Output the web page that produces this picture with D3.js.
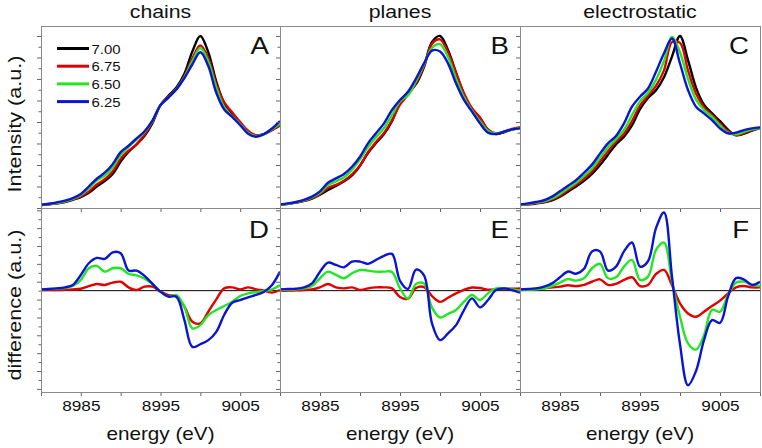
<!DOCTYPE html>
<html>
<head>
<meta charset="utf-8">
<script src="https://cdn.jsdelivr.net/npm/d3@7"></script>
<style>
  body { margin: 0; background: #fff; }
  text { font-family: "Liberation Sans", Arial, Helvetica, sans-serif; fill: #111; }
</style>
</head>
<body>
<script>
(function() {

    var width = 762,
        height = 448;

    // energy grid, eV
    var energies = [8980, 8981, 8982, 8983, 8984, 8985, 8986, 8987, 8988, 8989, 8990,
                    8991, 8992, 8993, 8994, 8995, 8996, 8997, 8998, 8999, 9000,
                    9001, 9002, 9003, 9004, 9005, 9006, 9007, 9008, 9009, 9010];

    var xTicks = [8980, 8985, 8990, 8995, 9000, 9005, 9010];
    var xLabels = [8985, 8995, 9005];
    var phLabels = ["7.00", "6.75", "6.50", "6.25"];
    var colors = ["#000000", "#e00000", "#22e622", "#0a14d2"];
    var titles = ["chains", "planes", "electrostatic"];
    var topLetters = ["A", "B", "C"];
    var bottomLetters = ["D", "E", "F"];

    // intensity (a.u.), top row
    var chainsBlack = [0.017,0.021,0.027,0.035,0.048,0.063,0.088,0.125,0.157,0.198,0.270,0.327,0.370,0.420,0.495,0.598,0.652,0.700,0.780,0.910,1.000,0.905,0.735,0.610,0.550,0.497,0.443,0.420,0.430,0.455,0.480];
    var chainsRed   = [0.017,0.022,0.028,0.036,0.050,0.067,0.095,0.137,0.167,0.212,0.286,0.333,0.370,0.427,0.502,0.598,0.645,0.690,0.765,0.870,0.945,0.870,0.720,0.614,0.556,0.499,0.449,0.422,0.430,0.452,0.481];
    var chainsGreen = [0.018,0.023,0.030,0.039,0.053,0.075,0.115,0.160,0.188,0.236,0.308,0.355,0.398,0.442,0.507,0.598,0.642,0.692,0.760,0.855,0.930,0.850,0.700,0.585,0.533,0.487,0.438,0.418,0.430,0.458,0.490];
    var chainsBlue  = [0.019,0.025,0.033,0.043,0.058,0.082,0.125,0.170,0.205,0.255,0.325,0.362,0.405,0.446,0.510,0.598,0.642,0.690,0.755,0.835,0.905,0.825,0.670,0.573,0.530,0.482,0.432,0.414,0.430,0.462,0.505];

    var planesBlack = [0.019,0.024,0.031,0.041,0.055,0.077,0.105,0.128,0.155,0.190,0.246,0.320,0.378,0.430,0.505,0.612,0.672,0.720,0.820,0.965,1.000,0.918,0.787,0.663,0.574,0.522,0.455,0.430,0.440,0.456,0.466];
    var planesRed   = [0.019,0.024,0.031,0.041,0.057,0.082,0.117,0.134,0.159,0.196,0.247,0.324,0.384,0.436,0.509,0.601,0.658,0.726,0.825,0.954,0.980,0.905,0.785,0.665,0.580,0.526,0.456,0.433,0.444,0.460,0.470];
    var planesGreen = [0.020,0.025,0.033,0.044,0.062,0.088,0.133,0.155,0.178,0.222,0.283,0.355,0.412,0.465,0.540,0.620,0.656,0.738,0.835,0.930,0.953,0.878,0.752,0.643,0.566,0.505,0.448,0.434,0.444,0.456,0.466];
    var planesBlue  = [0.021,0.027,0.035,0.047,0.066,0.097,0.147,0.172,0.198,0.240,0.298,0.376,0.434,0.492,0.570,0.628,0.676,0.753,0.841,0.915,0.910,0.841,0.725,0.628,0.560,0.492,0.438,0.430,0.444,0.457,0.463];

    var electroBlack = [0.017,0.021,0.026,0.033,0.045,0.066,0.095,0.125,0.158,0.198,0.250,0.310,0.370,0.415,0.480,0.575,0.640,0.685,0.760,0.880,1.000,0.860,0.700,0.600,0.550,0.505,0.455,0.423,0.432,0.450,0.465];
    var electroRed   = [0.018,0.022,0.028,0.035,0.050,0.072,0.104,0.135,0.170,0.213,0.270,0.330,0.385,0.432,0.505,0.595,0.652,0.710,0.800,0.965,0.960,0.800,0.665,0.585,0.540,0.492,0.446,0.424,0.436,0.453,0.466];
    var electroGreen = [0.019,0.024,0.031,0.039,0.056,0.082,0.115,0.146,0.186,0.230,0.292,0.352,0.400,0.455,0.540,0.620,0.670,0.745,0.855,0.995,0.905,0.750,0.630,0.570,0.530,0.480,0.438,0.428,0.442,0.457,0.467];
    var electroBlue  = [0.021,0.027,0.035,0.045,0.066,0.097,0.130,0.161,0.205,0.252,0.316,0.376,0.419,0.492,0.589,0.647,0.695,0.792,0.900,0.985,0.840,0.686,0.589,0.550,0.511,0.463,0.434,0.438,0.453,0.463,0.469];

    // difference (a.u.), bottom row, relative to pH 7.00
    var chainsRedD   = [0.007,0.007,0.007,0.010,0.015,0.022,0.050,0.075,0.064,0.090,0.100,0.037,0.007,0.045,0.045,-0.011,-0.049,-0.067,-0.180,-0.348,-0.367,-0.236,-0.097,0.026,0.037,0.015,0.037,0.015,0.000,-0.022,0.007];
    var chainsGreenD = [0.015,0.019,0.022,0.030,0.052,0.120,0.251,0.277,0.213,0.251,0.251,0.187,0.172,0.135,0.075,-0.011,-0.067,-0.049,-0.180,-0.423,-0.386,-0.273,-0.217,-0.172,-0.124,-0.060,-0.030,-0.015,-0.004,0.015,0.064];
    var chainsBlueD  = [0.015,0.019,0.026,0.037,0.064,0.176,0.307,0.367,0.356,0.430,0.420,0.225,0.225,0.165,0.075,-0.011,-0.067,-0.067,-0.330,-0.630,-0.600,-0.554,-0.461,-0.270,-0.135,-0.105,-0.075,-0.048,-0.011,0.064,0.213];

    var planesRedD   = [0.000,0.000,0.004,0.007,0.015,0.037,0.075,0.037,0.026,0.037,0.007,0.026,0.037,0.037,0.026,-0.070,-0.090,0.030,0.040,-0.060,-0.125,-0.080,-0.030,0.010,0.035,0.030,0.010,0.015,0.022,0.022,0.026];
    var planesGreenD = [0.007,0.011,0.015,0.026,0.052,0.139,0.213,0.176,0.139,0.195,0.232,0.225,0.213,0.213,0.210,0.026,-0.090,0.075,0.080,-0.190,-0.300,-0.260,-0.217,-0.124,-0.049,-0.105,-0.030,0.026,0.026,0.015,0.000];
    var planesBlueD  = [0.015,0.019,0.022,0.037,0.082,0.213,0.315,0.288,0.262,0.326,0.326,0.300,0.345,0.390,0.412,0.110,0.020,0.235,0.170,-0.367,-0.554,-0.479,-0.386,-0.217,-0.086,-0.187,-0.105,0.007,0.026,0.007,-0.022];

    var electroRedD   = [0.015,0.015,0.020,0.026,0.037,0.045,0.060,0.050,0.064,0.100,0.127,0.064,0.075,0.120,0.150,0.052,0.064,0.187,0.232,0.060,-0.142,-0.255,-0.292,-0.236,-0.172,-0.112,-0.030,0.037,0.052,0.037,0.037];
    var electroGreenD = [0.007,0.011,0.015,0.026,0.052,0.090,0.131,0.112,0.139,0.251,0.300,0.139,0.150,0.270,0.345,0.120,0.157,0.457,0.539,0.100,-0.290,-0.590,-0.660,-0.500,-0.215,-0.236,-0.049,0.090,0.101,0.064,0.052];
    var electroBlueD  = [0.015,0.019,0.026,0.045,0.082,0.150,0.215,0.190,0.245,0.440,0.440,0.225,0.270,0.440,0.540,0.270,0.330,0.700,0.875,0.157,-0.600,-1.060,-0.900,-0.555,-0.330,-0.360,-0.067,0.140,0.125,0.065,0.100];

    var columns = [
        { top: [chainsBlack, chainsRed, chainsGreen, chainsBlue], bottom: [chainsRedD, chainsGreenD, chainsBlueD] },
        { top: [planesBlack, planesRed, planesGreen, planesBlue], bottom: [planesRedD, planesGreenD, planesBlueD] },
        { top: [electroBlack, electroRed, electroGreen, electroBlue], bottom: [electroRedD, electroGreenD, electroBlueD] }
    ];

    // layout
    var colX = [[41, 280], [280, 520], [520, 760]];
    var topRange = [208, 26],
        botRange = [392, 208];
    var stretch = 1.15;  // the original font is wider than Arial

    var svg = d3.select("body")
        .append("svg")
        .attr("width", width)
        .attr("height", height);

    var defs = svg.append("defs");

    var yInt = d3.scaleLinear().domain([0, 1.058]).range(topRange);
    var yDiff = d3.scaleLinear().domain([-1.135, 0.926]).range(botRange);

    var intTicks = d3.range(0, 17).map(function(d) { return d * 0.0625; });
    var diffTicks = d3.range(-11, 10).map(function(d) { return d / 10; });

    function addText(g, x, y, str, size, anchor, rot) {
        var t = g.append("g")
            .attr("transform", "translate(" + x + "," + y + ")" + (rot ? " rotate(-90)" : "") + " scale(" + (rot ? 1.17 : stretch) + ",1)");
        t.append("text")
            .attr("text-anchor", anchor)
            .style("font-size", size + "px")
            .text(str);
    }

    columns.forEach(function(col, i) {

        var x = d3.scaleLinear().domain([8980, 9010]).range(colX[i]);
        var x0 = colX[i][0], x1 = colX[i][1];

        defs.append("clipPath").attr("id", "clipTop" + i)
            .append("rect").attr("x", x0).attr("y", topRange[1]).attr("width", x1 - x0).attr("height", topRange[0] - topRange[1]);
        defs.append("clipPath").attr("id", "clipBot" + i)
            .append("rect").attr("x", x0).attr("y", botRange[1]).attr("width", x1 - x0).attr("height", botRange[0] - botRange[1]);

        var lineTop = d3.line()
            .x(function(d, j) { return x(energies[j]); })
            .y(function(d) { return yInt(d); })
            .curve(d3.curveCatmullRom.alpha(0.5));

        var lineBot = d3.line()
            .x(function(d, j) { return x(energies[j]); })
            .y(function(d) { return yDiff(d); })
            .curve(d3.curveCatmullRom.alpha(0.5));

        // top spectra
        var gTop = svg.append("g").attr("clip-path", "url(#clipTop" + i + ")");
        col.top.forEach(function(s, k) {
            gTop.append("path")
                .datum(s)
                .attr("d", lineTop)
                .attr("fill", "none")
                .attr("stroke", colors[k])
                .attr("stroke-width", 2.4)
                .attr("stroke-linejoin", "round");
        });

        // difference spectra
        var gBot = svg.append("g").attr("clip-path", "url(#clipBot" + i + ")");
        gBot.append("line")
            .attr("x1", x0).attr("x2", x1)
            .attr("y1", yDiff(0)).attr("y2", yDiff(0))
            .attr("stroke", "#000")
            .attr("stroke-width", 1);
        col.bottom.forEach(function(s, k) {
            gBot.append("path")
                .datum(s)
                .attr("d", lineBot)
                .attr("fill", "none")
                .attr("stroke", colors[k + 1])
                .attr("stroke-width", 2.4)
                .attr("stroke-linejoin", "round");
        });

        // axes
        var axTop = svg.append("g")
            .attr("transform", "translate(0," + topRange[0] + ")")
            .call(d3.axisBottom(x).tickValues(xTicks).tickSize(4).tickFormat(""));

        var axBot = svg.append("g")
            .attr("transform", "translate(0," + botRange[0] + ")")
            .call(d3.axisBottom(x).tickValues(xTicks).tickSize(4)
                .tickFormat(function(d) { return xLabels.indexOf(d) >= 0 ? d : ""; }));

        axBot.selectAll(".tick text")
            .attr("y", 19)
            .attr("dy", null)
            .attr("transform", "scale(" + stretch + ",1)")
            .style("font-size", "15px")
            .style("font-family", "'Liberation Sans', Arial, sans-serif")
            .attr("fill", "#111");

        var ayTop = svg.append("g")
            .attr("transform", "translate(" + x0 + ",0)")
            .call(d3.axisLeft(yInt).tickValues(intTicks).tickSize(4).tickFormat(""));

        var ayBot = svg.append("g")
            .attr("transform", "translate(" + x0 + ",0)")
            .call(d3.axisLeft(yDiff).tickValues(diffTicks).tickSize(4).tickFormat(""));

        [axTop, axBot, ayTop, ayBot].forEach(function(a) {
            a.select(".domain").remove();
            a.selectAll(".tick line").attr("stroke", "#666");
        });
        ayTop.selectAll(".tick line").attr("x2", function(d, j) { return j % 2 ? -2.5 : -4; });
        ayBot.selectAll(".tick line").attr("x2", function(d, j) { return j % 2 ? -2.5 : -4; });

        // frames
        svg.append("rect")
            .attr("x", x0 + 0.5).attr("y", topRange[1] + 0.5)
            .attr("width", x1 - x0).attr("height", topRange[0] - topRange[1])
            .attr("fill", "none").attr("stroke", "#8a8a8a");
        svg.append("rect")
            .attr("x", x0 + 0.5).attr("y", botRange[1] + 0.5)
            .attr("width", x1 - x0).attr("height", botRange[0] - botRange[1])
            .attr("fill", "none").attr("stroke", "#8a8a8a");

        // titles, letters, x label
        addText(svg, (x0 + x1) / 2, 18, titles[i], 18.5, "middle");
        addText(svg, x1 - 11, 54, topLetters[i], 24, "end");
        addText(svg, x1 - 11, 238, bottomLetters[i], 24, "end");
        addText(svg, (x0 + x1) / 2, 440, "energy (eV)", 18, "middle");
    });

    // y labels
    addText(svg, 21, 124, "Intensity (a.u.)", 18.5, "middle", true);
    addText(svg, 21, 305, "difference (a.u.)", 18.5, "middle", true);

    // legend
    var legend = svg.append("g");
    phLabels.forEach(function(p, k) {
        var ly = 48.5 + k * 17.7;
        legend.append("line")
            .attr("x1", 57).attr("x2", 89)
            .attr("y1", ly).attr("y2", ly)
            .attr("stroke", colors[k])
            .attr("stroke-width", 3);
        addText(legend, 91.5, ly + 5, p, 13, "start");
    });

})();
</script>
</body>
</html>
